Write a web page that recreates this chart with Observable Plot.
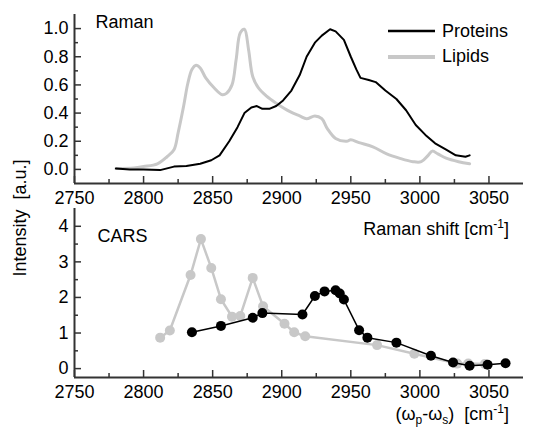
<!DOCTYPE html>
<html><head><meta charset="utf-8">
<script src="https://cdn.jsdelivr.net/npm/d3@7"></script>
<script src="https://cdn.jsdelivr.net/npm/@observablehq/plot@0.6"></script>
<style>
body{margin:0;background:#fff;}
#chart{position:relative;width:548px;height:429px;font-family:"Liberation Sans",Arial,sans-serif;color:#000;overflow:hidden;background:#fff}
#chart svg.p{position:absolute;left:0}
.lbl{position:absolute;font-size:18px;line-height:18px;white-space:nowrap}
.lbl sup{font-size:12px;vertical-align:baseline;position:relative;top:-0.55em}
.lbl sub{font-size:12px;vertical-align:baseline;position:relative;top:0.35em}
</style>
</head><body>
<div id="chart"></div>
<script>
// ---------- data ----------
const ramanProteinsX = [2780,2790,2800,2812,2822,2831,2841,2849,2855,2862,2868,2873,2878,2882,2886,2891,2896,2901,2907,2913,2918,2924,2929,2935,2939,2945,2950,2954,2957,2963,2968,2975,2983,2990,2997,3004,3011,3019,3026,3033,3036];
const ramanProteinsY = [0.007,0.0,0.0,-0.005,0.02,0.025,0.04,0.065,0.10,0.20,0.30,0.40,0.44,0.45,0.43,0.43,0.45,0.49,0.56,0.67,0.80,0.90,0.95,0.995,0.98,0.92,0.80,0.71,0.65,0.635,0.62,0.56,0.50,0.42,0.315,0.245,0.185,0.14,0.10,0.09,0.10];
const ramanLipidsX = [2780,2793,2800,2810,2817,2822,2825,2829,2832,2835,2838,2841,2845,2851,2857,2860,2864,2867,2870,2873,2876,2879,2883,2889,2896,2906,2913,2918,2924,2929,2933,2939,2947,2950,2956,2966,2976,2985,2995,3001,3006,3009,3013,3019,3028,3036];
const ramanLipidsY = [0.007,0.01,0.02,0.04,0.09,0.14,0.26,0.45,0.61,0.71,0.74,0.72,0.65,0.58,0.53,0.54,0.60,0.78,0.97,0.995,0.85,0.66,0.58,0.52,0.47,0.41,0.38,0.36,0.38,0.36,0.29,0.22,0.20,0.21,0.19,0.16,0.11,0.08,0.055,0.055,0.10,0.13,0.11,0.08,0.055,0.04];
const carsLipidsX = [2812,2819,2834,2841.5,2849,2856,2864,2870,2879,2886.5,2902,2909,2917,2969,2996,3027,3035,3047];
const carsLipidsY = [0.87,1.07,2.63,3.64,2.83,1.95,1.46,1.48,2.55,1.75,1.26,1.02,0.91,0.66,0.42,0.14,0.14,0.13];
const carsProteinsX = [2835,2856,2879,2886,2915,2924,2931,2939,2942,2945,2956,2962,2983,3008,3024,3036,3049,3062];
const carsProteinsY = [1.02,1.20,1.43,1.56,1.52,2.04,2.17,2.20,2.11,1.94,1.08,0.87,0.73,0.36,0.17,0.08,0.11,0.15];

const xTicksMajor = [2750,2800,2850,2900,2950,3000,3050];
const xTicksMinor = [2775,2825,2875,2925,2975,3025];
const yTopMajor = [0,0.2,0.4,0.6,0.8,1.0];
const yTopMinor = [0.1,0.3,0.5,0.7,0.9];
const yBotMajor = [0,1,2,3,4];
const yBotMinor = [0.5,1.5,2.5,3.5];
const seriesNames = ["Proteins","Lipids"];

// ---------- styles ----------
const black = "#000", gray = "#c8c8c8", axisColor = "#333";
const W = 548, mL = 74, mR = 25;
const frameW = W - mL - mR;
const frameH = 169;
const font = {fontFamily: '"Liberation Sans", Arial, sans-serif', fontSize: "18px", background: "transparent", overflow: "visible", color: "#000"};

const zip = (xs, ys) => xs.map((x, i) => ({x, y: ys[i]}));

function axisMarks(yMin, yMajor, yMinor, yFmt) {
  return [
    Plot.ruleX([2750], {stroke: axisColor, strokeWidth: 2}),
    Plot.ruleY([yMin], {stroke: axisColor, strokeWidth: 2}),
    Plot.tickX(xTicksMajor, {x: d => d, insetTop: frameH - 7, stroke: axisColor, strokeWidth: 1.5}),
    Plot.tickX(xTicksMinor, {x: d => d, insetTop: frameH - 4, stroke: axisColor, strokeWidth: 1.5}),
    Plot.tickY(yMajor, {y: d => d, insetRight: frameW - 7, stroke: axisColor, strokeWidth: 1.5}),
    Plot.tickY(yMinor, {y: d => d, insetRight: frameW - 4, stroke: axisColor, strokeWidth: 1.5}),
    Plot.axisX({ticks: xTicksMajor, tickSize: 0, tickPadding: 8, tickFormat: d => String(d), label: null}),
    Plot.axisY({ticks: yMajor, tickSize: 0, tickPadding: 6, tickFormat: yFmt, label: null})
  ];
}

const topPlot = Plot.plot({
  width: W, height: 215, marginLeft: mL, marginRight: mR, marginTop: 14, marginBottom: 32,
  style: font,
  x: {domain: [2750, 3075], label: null},
  y: {domain: [-0.1, 1.1], label: null},
  marks: [
    ...axisMarks(-0.1, yTopMajor, yTopMinor, ".1f"),
    Plot.line(zip(ramanLipidsX, ramanLipidsY), {x: "x", y: "y", stroke: gray, strokeWidth: 3, curve: "catmull-rom"}),
    Plot.line(zip(ramanProteinsX, ramanProteinsY), {x: "x", y: "y", stroke: black, strokeWidth: 2, curve: "linear"}),
    Plot.text(["Raman"], {frameAnchor: "top-left", lineAnchor: "top", textAnchor: "start", dx: 21, dy: 1, fontSize: 18, fill: "#000"})
  ]
});
topPlot.classList.add("p");
topPlot.style.top = "0px";

const botPlot = Plot.plot({
  width: W, height: 229, marginLeft: mL, marginRight: mR, marginTop: 8, marginBottom: 52,
  style: font,
  x: {domain: [2750, 3075], label: null},
  y: {domain: [-0.25, 4.5], label: null},
  marks: [
    ...axisMarks(-0.25, yBotMajor, yBotMinor, d => String(d)),
    Plot.line(zip(carsLipidsX, carsLipidsY), {x: "x", y: "y", stroke: gray, strokeWidth: 2.5}),
    Plot.dot(zip(carsLipidsX, carsLipidsY), {x: "x", y: "y", r: 5, fill: gray}),
    Plot.line(zip(carsProteinsX, carsProteinsY), {x: "x", y: "y", stroke: black, strokeWidth: 1.5}),
    Plot.dot(zip(carsProteinsX, carsProteinsY), {x: "x", y: "y", r: 5, fill: black}),
    Plot.text(["CARS"], {frameAnchor: "top-left", lineAnchor: "top", textAnchor: "start", dx: 23, dy: 21, fontSize: 18, fill: "#000"})
  ]
});
botPlot.classList.add("p");
botPlot.style.top = "200px";

const chart = document.getElementById("chart");
chart.appendChild(topPlot);
chart.appendChild(botPlot);

// labels and legend
chart.insertAdjacentHTML("beforeend", `
<div class="lbl" style="left:-80px;top:209px;width:200px;text-align:center;transform:rotate(-90deg);">Intensity&nbsp;&nbsp;[a.u.]</div>
<div class="lbl" style="right:39px;top:220px;">Raman shift [cm<sup>-1</sup>]</div>
<div class="lbl" style="right:39px;top:405px;">(ω<sub>p</sub>-ω<sub>s</sub>)&nbsp;&nbsp;[cm<sup>-1</sup>]</div>
<svg style="position:absolute;left:386px;top:22px;" width="50" height="44">
  <line x1="2" x2="49" y1="9" y2="9" stroke="${black}" stroke-width="2.5"/>
  <line x1="2" x2="49" y1="35" y2="35" stroke="${gray}" stroke-width="4"/>
</svg>
<div class="lbl" style="left:442px;top:22px;">${seriesNames[0]}</div>
<div class="lbl" style="left:442px;top:47px;">${seriesNames[1]}</div>
`);
</script>
</body></html>
